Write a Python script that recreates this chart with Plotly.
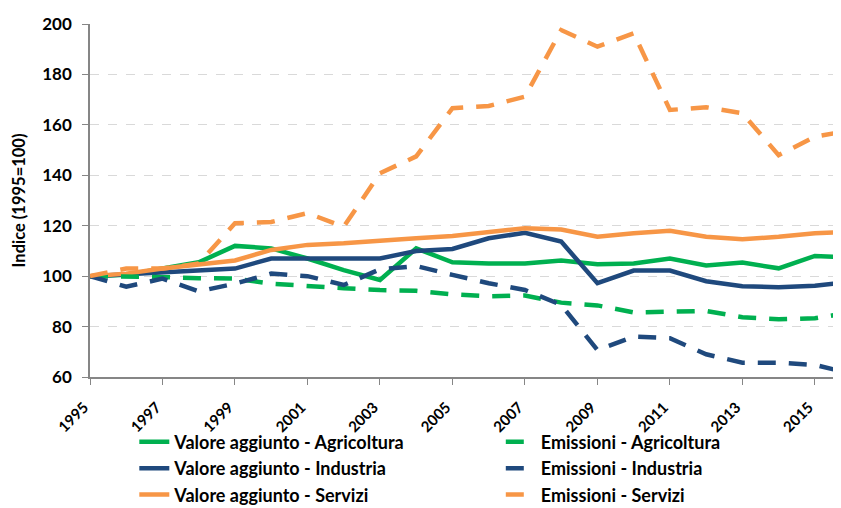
import plotly.graph_objects as go

# anni
years = list(range(1995, 2017))

# Valore aggiunto (1995=100)
va_agricoltura = [100, 100.5, 103, 105.5, 112, 111, 107, 102.4, 98.5, 111, 105.5, 105, 105, 106.2, 104.7, 105, 107, 104.2, 105.4, 103.1, 108, 107.4]
va_industria = [100, 100.8, 101.3, 102, 103, 107, 107, 107.3, 107, 110, 110.8, 115, 117.2, 113.7, 97.2, 102.2, 102.2, 98, 96, 95.6, 96.2, 97.8]
va_servizi = [100, 101, 103, 104.5, 106.2, 110.4, 112.4, 113, 113.8, 115, 115.9, 117.4, 119, 118.5, 115.6, 117, 118, 115.6, 114.6, 115.6, 117, 117.6]

# Emissioni (1995=100)
em_agricoltura = [100, 100, 99.6, 99.2, 99, 97, 96, 95.2, 94.5, 94.2, 92.8, 92, 92.3, 89.5, 88.4, 85.6, 85.9, 86.2, 83.7, 82.9, 83.3, 85.6]
em_industria = [100, 95.8, 99, 94, 97, 101, 100, 96.5, 102.7, 104, 100.5, 97.2, 94.5, 88.6, 70.7, 76, 75.4, 69, 65.7, 65.7, 64.8, 61.3]
em_servizi = [100, 103, 103, 105, 121, 121.5, 125, 119.6, 140.8, 147.5, 166.6, 167.5, 171.2, 197.6, 191, 196.3, 165.9, 167, 164.6, 148, 155.3, 157.8]

GREEN = "#00B050"
NAVY = "#1F497D"
ORANGE = "#F79646"
DASH = "18px,13px"

series = [
    ("Valore aggiunto - Agricoltura", va_agricoltura, GREEN, "solid", "legend"),
    ("Valore aggiunto - Industria", va_industria, NAVY, "solid", "legend"),
    ("Valore aggiunto - Servizi", va_servizi, ORANGE, "solid", "legend"),
    ("Emissioni - Agricoltura", em_agricoltura, GREEN, DASH, "legend2"),
    ("Emissioni - Industria", em_industria, NAVY, DASH, "legend2"),
    ("Emissioni - Servizi", em_servizi, ORANGE, DASH, "legend2"),
]

fig = go.Figure()
for name, vals, color, dash, leg in series:
    fig.add_trace(go.Scatter(
        x=years, y=vals, name=name, mode="lines",
        line=dict(color=color, width=4.5, dash=dash),
        legend=leg, legendgroup=name,
    ))

font = "Lato, 'DejaVu Sans', sans-serif"

legend_style = dict(
    orientation="v", yanchor="top", xanchor="left",
    font=dict(family=font, size=18, color="#000000", weight="bold"),
    bgcolor="rgba(0,0,0,0)", tracegroupgap=0, traceorder="grouped",
)

# la pagina ha 8px di margine sul body: margini compensati
fig.update_layout(
    width=841, height=508,
    margin=dict(l=82, r=8, t=16, b=139, autoexpand=False),
    paper_bgcolor="white", plot_bgcolor="white",
    font=dict(family=font, color="#000000"),
    showlegend=True,
    legend=dict(x=0.059, y=-0.132, **legend_style),
    legend2=dict(x=0.547, y=-0.132, **legend_style),
    xaxis=dict(
        range=[1995, 2015.72], tickmode="array",
        tickvals=list(range(1995, 2017, 2)),
        ticktext=[str(y) for y in range(1995, 2017, 2)],
        tickangle=-45, tickfont=dict(size=15, family=font, weight="bold"),
        showgrid=False, showline=True, linecolor="#868686", linewidth=1.5,
        ticks="outside", ticklen=6, tickcolor="#868686", zeroline=False,
        ticklabelshift=-6, ticklabelstandoff=8,
    ),
    yaxis=dict(
        range=[60, 200], dtick=20,
        tickfont=dict(size=17, family=font, weight="bold"),
        title=dict(text="Indice (1995=100)", font=dict(size=16.5, family=font, weight="bold"), standoff=12),
        showgrid=True, gridcolor="#D9D9D9", griddash="dash", gridwidth=1,
        showline=True, linecolor="#868686", linewidth=1.5,
        ticks="outside", ticklen=6, tickcolor="#868686", zeroline=False,
        ticklabelstandoff=7,
    ),
)

fig.write_html("out.html")
